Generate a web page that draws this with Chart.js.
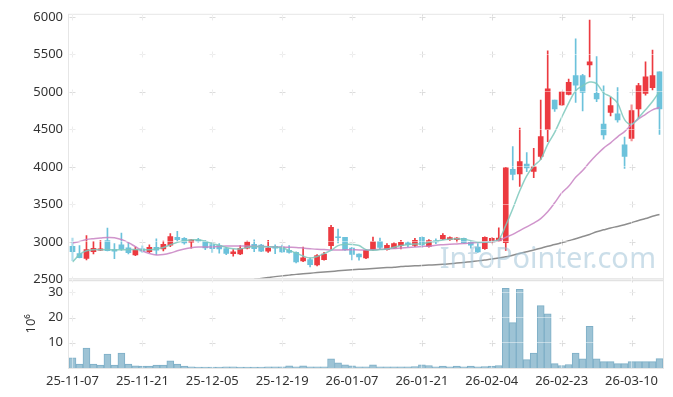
<!DOCTYPE html>
<html lang="ko">
<head>
<meta charset="UTF-8">
<script src="https://cdn.jsdelivr.net/npm/chart.js@4.4.1/dist/chart.umd.min.js"></script>
<title>Candle chart</title>
<style>
  html, body { margin: 0; padding: 0; background: #fff; }
</style>
</head>
<body>
<canvas id="chart" width="673" height="397"></canvas>
<script>
const dates = [
  '25-11-07','25-11-10','25-11-11','25-11-12','25-11-13','25-11-14','25-11-17','25-11-18','25-11-19','25-11-20',
  '25-11-21','25-11-24','25-11-25','25-11-26','25-11-27','25-11-28','25-12-01','25-12-02','25-12-03','25-12-04',
  '25-12-05','25-12-08','25-12-09','25-12-10','25-12-11','25-12-12','25-12-15','25-12-16','25-12-17','25-12-18',
  '25-12-19','25-12-22','25-12-23','25-12-24','25-12-26','25-12-29','25-12-30','26-01-02','26-01-05','26-01-06',
  '26-01-07','26-01-08','26-01-09','26-01-12','26-01-13','26-01-14','26-01-15','26-01-16','26-01-19','26-01-20',
  '26-01-21','26-01-22','26-01-23','26-01-26','26-01-27','26-01-28','26-01-29','26-01-30','26-02-02','26-02-03',
  '26-02-04','26-02-05','26-02-06','26-02-09','26-02-10','26-02-11','26-02-12','26-02-13','26-02-19','26-02-20',
  '26-02-23','26-02-24','26-02-25','26-02-26','26-02-27','26-03-03','26-03-04','26-03-05','26-03-06','26-03-09',
  '26-03-10','26-03-11','26-03-12','26-03-13','26-03-16'
];

const open = [
  2940,2843,2780,2870,2890,3015,2896,2960,2920,2824,
  2905,2870,2925,2905,2955,3060,3045,2995,3025,3005,
  2963,2950,2910,2843,2840,2917,2965,2955,2875,2940,
  2930,2887,2860,2745,2763,2691,2763,2950,3065,3060,
  2917,2835,2785,2896,3007,2896,2917,2950,2985,2953,
  3060,2940,3012,3037,3030,3030,3045,2993,2930,2910,
  3012,3012,2990,3965,3905,4035,3937,4137,4495,4890,
  4825,4966,5215,5215,5357,4980,4570,4726,4705,4292,
  4380,4771,4980,5055,5268
];
const high = [
  3050,2950,3083,3007,3015,3184,2975,3115,2985,2930,
  2945,2960,3040,3010,3110,3140,3055,3030,3045,3015,
  2985,2975,2925,2895,2950,3010,3025,2965,3020,2960,
  2955,2950,2865,2930,2785,2830,2860,3220,3170,3060,
  2925,2840,2900,3063,3050,2975,2985,3020,3000,3045,
  3065,3030,3040,3110,3065,3055,3050,3005,2975,3065,
  3055,3185,3990,4270,4515,4190,4245,4890,5545,4890,
  5005,5170,5705,5232,5955,5470,5080,4925,5055,4395,
  4825,5112,5400,5557,5268
];
const low = [
  2750,2785,2758,2838,2885,2880,2775,2885,2840,2815,
  2860,2855,2830,2880,2935,3010,2970,2915,2995,2895,
  2860,2850,2830,2808,2830,2905,2870,2870,2860,2843,
  2860,2850,2720,2735,2665,2680,2755,2900,2985,2885,
  2760,2755,2775,2887,2900,2890,2910,2905,2935,2935,
  2930,2930,2975,3030,3020,3000,2980,2917,2860,2900,
  2985,3005,2885,3825,3740,3935,3855,4100,4335,4740,
  4820,4960,4860,4745,5200,4870,4370,4680,4595,3980,
  4345,4655,4955,5024,4433
];
const close = [
  2870,2790,2896,2913,2905,2883,2875,2905,2855,2896,
  2875,2925,2888,2965,3070,3030,2985,3025,3010,2918,
  2910,2905,2845,2865,2913,2997,2910,2875,2917,2915,
  2865,2860,2732,2785,2697,2816,2838,3193,3055,2893,
  2832,2800,2885,3003,2927,2953,2975,2993,2963,3020,
  2960,3016,3000,3087,3056,3050,2985,2955,2865,3060,
  3047,3050,3985,3900,4070,3985,4003,4403,5040,4772,
  5000,5126,5090,4993,5400,4905,4425,4815,4625,4137,
  4750,5082,5200,5215,4771
];

// volume in millions of shares
const volume = [
  4.0,1.6,7.9,1.6,1.2,5.5,1.2,5.9,1.6,0.9,
  0.8,0.8,1.2,1.2,2.8,1.6,0.8,0.5,0.4,0.4,
  0.4,0.4,0.5,0.5,0.4,0.4,0.4,0.4,0.5,0.5,
  0.5,0.9,0.5,0.9,0.5,0.5,0.5,3.6,2.0,1.3,
  0.9,0.5,0.5,1.3,0.5,0.5,0.5,0.5,0.5,0.6,
  1.3,1.0,0.5,0.8,0.5,0.8,0.5,0.8,0.5,0.6,
  0.8,1.0,31.6,18.0,31.2,3.3,5.9,24.7,21.5,1.75,
  1.0,1.4,5.9,3.6,16.5,3.6,2.5,2.5,1.75,1.75,
  2.5,2.5,2.5,2.5,3.7
];

// moving averages
const ma5 = [
  2730,2830,2880,2895,2895,2896,2892,2895,2896,2897,
  2893,2895,2905,2925,2960,2995,3015,3025,3028,3007,
  2976,2953,2925,2909,2905,2925,2938,2935,2935,2930,
  2920,2885,2851,2810,2784,2805,2843,2885,2950,2965,
  2965,2950,2896,2887,2896,2904,2927,2950,2962,2970,
  2976,2993,3007,3025,3035,3040,3035,3015,2995,2995,
  3005,3030,3220,3440,3680,3880,4010,4100,4300,4460,
  4660,4850,5015,5080,5130,5110,4985,4935,4850,4630,
  4567,4655,4760,4870,5005
];
const ma20 = [
  2984,3005,3030,3042,3050,3058,3055,3030,2990,2935,
  2880,2845,2825,2830,2850,2880,2905,2922,2930,2932,
  2932,2938,2945,2945,2945,2943,2940,2938,2935,2932,
  2930,2927,2925,2917,2908,2900,2896,2890,2890,2893,
  2893,2892,2890,2895,2900,2905,2910,2918,2925,2932,
  2938,2942,2955,2962,2968,2972,2976,2984,2990,2995,
  3003,3016,3060,3100,3150,3200,3250,3310,3400,3520,
  3650,3740,3860,3950,4060,4160,4250,4320,4400,4470,
  4560,4640,4700,4760,4790
];
const ma120 = [
  null,null,null,null,null,null,null,null,null,null,
  null,null,null,null,null,null,null,null,null,null,
  null,null,null,null,null,null,2500,2512,2524,2536,
  2546,2556,2566,2574,2582,2590,2598,2605,2613,2620,
  2627,2633,2638,2644,2650,2656,2662,2670,2675,2680,
  2685,2690,2694,2700,2708,2716,2725,2735,2746,2758,
  2770,2784,2800,2822,2845,2868,2890,2915,2940,2963,
  2988,3015,3040,3070,3098,3135,3160,3185,3205,3228,
  3255,3285,3310,3340,3365
];

const priceTicks = [2500, 3000, 3500, 4000, 4500, 5000, 5500, 6000];
const volumeTicks = [10, 20, 30];

const RED = '#ec3a40';
const BLUE = '#6cc2db';
const candleColor = close.map((c, i) => c >= open[i] ? RED : BLUE);
const tickFont = { family: '"Noto Sans", sans-serif', size: 13 };

// keep price lines inside the upper panel
const panelClip = {
  id: 'panelClip',
  beforeDatasetDraw(chart, args) {
    if (args.meta.yAxisID !== 'y') return;
    const { ctx, chartArea, scales } = chart;
    ctx.save();
    ctx.beginPath();
    ctx.rect(chartArea.left, scales.y.top, chartArea.right - chartArea.left, scales.y.bottom - scales.y.top);
    ctx.clip();
  },
  afterDatasetDraw(chart, args) {
    if (args.meta.yAxisID !== 'y') return;
    chart.ctx.restore();
  }
};

const frame = {
  id: 'frame',
  beforeDatasetsDraw(chart) {
    const { ctx, chartArea: a, scales } = chart;
    ctx.save();
    ctx.strokeStyle = '#e6e6e6';
    ctx.lineWidth = 1;
    ctx.strokeRect(a.left - 0.5, a.top + 0.5, a.right - a.left + 1, a.bottom - a.top);
    // small crosses at the grid intersections
    ctx.strokeStyle = '#dcdcdc';
    const xs = [];
    dates.forEach((d, i) => { if (i % 10 === 0) xs.push(Math.round(scales.x.getPixelForValue(i)) + 0.5); });
    const ys = priceTicks.map(v => scales.y.getPixelForValue(v))
      .concat(volumeTicks.map(v => scales.v.getPixelForValue(v)));
    ctx.beginPath();
    xs.forEach(x => ys.forEach(y => {
      const yy = Math.round(y) + 0.5;
      ctx.moveTo(x - 3, yy); ctx.lineTo(x + 3, yy);
      ctx.moveTo(x, yy - 3); ctx.lineTo(x, yy + 3);
    }));
    ctx.stroke();
    ctx.restore();
  },
  afterDatasetsDraw(chart) {
    const { ctx, chartArea: a, scales } = chart;
    ctx.save();
    ctx.strokeStyle = '#e2e2e2';
    ctx.lineWidth = 3;
    ctx.beginPath();
    ctx.moveTo(a.left, scales.y.bottom);
    ctx.lineTo(a.right, scales.y.bottom);
    ctx.stroke();
    ctx.font = '29px "Noto Sans", sans-serif';
    ctx.fillStyle = 'rgba(160, 195, 215, 0.55)';
    ctx.textAlign = 'right';
    ctx.textBaseline = 'alphabetic';
    ctx.fillText('InfoPointer.com', 656, 268);
    ctx.restore();
  }
};

const ctx = document.getElementById('chart');
new Chart(ctx, {
  type: 'bar',
  data: {
    labels: dates,
    datasets: [
      {
        type: 'line', label: 'MA5', data: ma5, yAxisID: 'y',
        borderColor: 'rgba(125, 200, 188, 0.85)', borderWidth: 1.5,
        pointRadius: 0, tension: 0.35, order: 1
      },
      {
        type: 'line', label: 'MA20', data: ma20, yAxisID: 'y',
        borderColor: 'rgba(200, 130, 195, 0.85)', borderWidth: 1.5,
        pointRadius: 0, tension: 0.35, order: 1
      },
      {
        type: 'line', label: 'MA120', data: ma120, yAxisID: 'y',
        borderColor: '#8e8e8e', borderWidth: 1.5,
        pointRadius: 0, tension: 0.35, order: 1
      },
      {
        label: 'body', data: open.map((o, i) => [o, close[i]]), yAxisID: 'y',
        backgroundColor: candleColor, barThickness: 5, grouped: false, order: 2
      },
      {
        label: 'wick', data: low.map((l, i) => [l, high[i]]), yAxisID: 'y',
        backgroundColor: candleColor, barThickness: 1, grouped: false, order: 3
      },
      {
        label: 'volume', data: volume, yAxisID: 'v',
        backgroundColor: '#9dc3d5', borderColor: '#7eafc7', borderWidth: 1,
        barPercentage: 1, categoryPercentage: 1, grouped: false, order: 4
      }
    ]
  },
  options: {
    responsive: false,
    animation: false,
    layout: { padding: { top: 11, right: 10, left: 0, bottom: 0 } },
    plugins: { legend: { display: false }, tooltip: { enabled: false } },
    scales: {
      x: {
        grid: { offset: false, color: 'rgba(255,255,255,0.45)', z: 1, drawTicks: false },
        border: { display: false },
        ticks: {
          autoSkip: false, maxRotation: 0, padding: 5, color: '#333', font: tickFont,
          callback: (v, i) => i % 10 === 0 ? dates[i] : null
        },
        afterFit(s) { s.height = 29; }
      },
      v: {
        position: 'left', stack: 'panels', stackWeight: 89,
        min: 0, max: 35,
        afterBuildTicks(s) { s.ticks = volumeTicks.map(v => ({ value: v })); },
        grid: { color: 'rgba(255,255,255,0.45)', z: 1, drawTicks: false },
        border: { display: false },
        ticks: { padding: 6, color: '#333', font: tickFont, callback: v => String(v) },
        title: { display: true, text: '10⁶', color: '#333', font: tickFont, padding: { top: 23, bottom: 0 } },
        afterFit(s) { s.width = 69; }
      },
      y: {
        position: 'left', stack: 'panels', stackWeight: 268,
        min: 2495, max: 6040,
        afterBuildTicks(s) { s.ticks = priceTicks.map(v => ({ value: v })); },
        grid: { color: 'rgba(255,255,255,0.45)', z: 1, drawTicks: false },
        border: { display: false },
        ticks: { padding: 6, color: '#333', font: tickFont, callback: v => String(v) },
        afterFit(s) { s.width = 69; }
      }
    }
  },
  plugins: [panelClip, frame]
});
</script>
</body>
</html>
